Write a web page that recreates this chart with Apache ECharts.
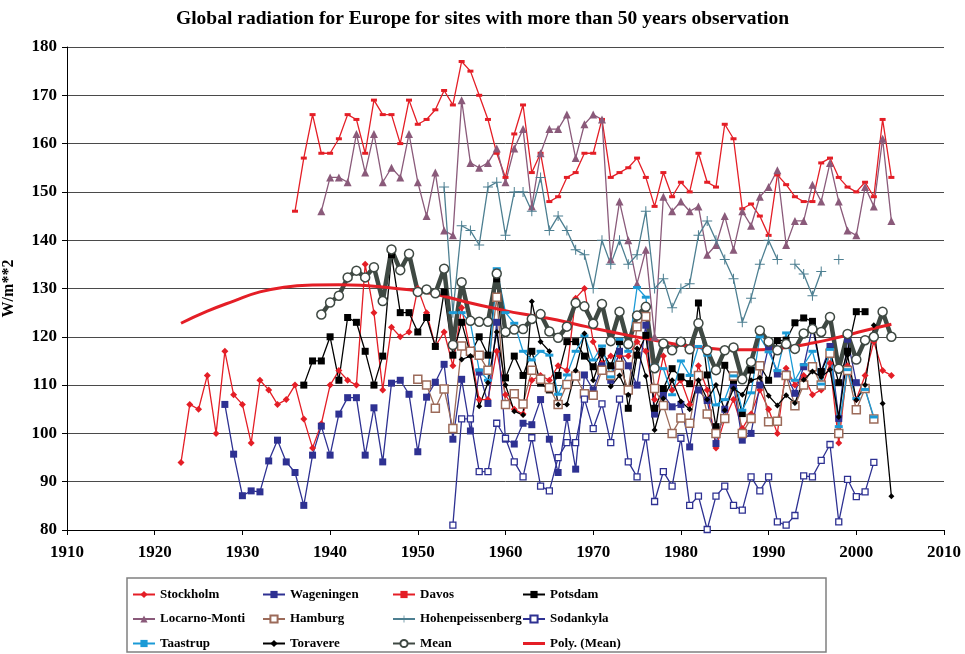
<!DOCTYPE html>
<html lang="en">
<head>
    <meta charset="UTF-8">
    <title>Global radiation for Europe</title>
    <script src="https://cdn.jsdelivr.net/npm/echarts@6/dist/echarts.min.js"></script>
    <style>
        html, body { margin: 0; padding: 0; background: #fff; }
        #container { width: 965px; height: 654px; }
    </style>
</head>
<body>
<div id="container"></div>
<script>
    // yearly values, each series starts at its own first year
    var stockholmStart = 1923;
    var stockholm = [94, 106, 105, 112, 100, 117, 108, 106, 98, 111,
        109, 106, 107, 110, 103, 97, 102, 110, 113, 111,
        110, 135, 125, 109, 122, 120, 121, 130, 125, 118,
        121, 114, 126, 117, 107, 107, 117, 108, 105, 104,
        111, 112, 111, 114, 113, 128, 130, 119, 114.5, 116,
        116, 116, 119, 117, 107, 116, 109, 111, 106, 114,
        109, 97, 103, 107, 101, 104, 109, 105, 100, 113.5,
        110, 112, 108, 109, 114.5, 98, 114, 107, 112, 119,
        113, 112];

    var wageningenStart = 1928;
    var wageningen = [106, 95.7, 87.1, 88.1, 87.9, 94.3, 98.6, 94.1, 91.9, 85.1,
        95.5, 101.5, 95.5, 104, 107.4, 107.4, 95.5, 105.3, 94.1, 110.4,
        111, 108.1, 96.2, 107.5, 110.6, 114.3, 98.8, 111.2, 100.5, 112.7,
        106.2, 123, 98.8, 97.8, 102.1, 101.8, 107, 98.8, 91.9, 103.3,
        92.6, 112.1, 109, 114, 111, 117, 114, 110, 122.4, 104,
        108, 105.5, 106, 97.2, 109, 106.8, 97.9, 105, 110, 98.6,
        100, 110, 118, 112.3, 112.3, 108.3, 113.8, 122, 112.8, 118,
        103.1, 119.5, 110.5, 109.5];

    var davosStart = 1936;
    var davos = [146, 157, 166, 158, 158, 161, 166, 165, 158, 169,
        166, 166, 160, 169, 164, 165, 167, 171, 168, 177,
        175, 170, 165, 158, 153, 162, 168, 154, 158, 148,
        149, 153, 154, 158, 158, 165, 153, 154, 155, 157,
        153, 147, 154, 149, 152, 150, 158, 152, 151, 164,
        161, 146.5, 147.5, 145, 141, 153.5, 151.5, 149, 148, 148,
        156, 157, 153, 151, 150, 152, 149, 165, 153];

    var potsdamStart = 1937;
    var potsdam = [110, 115, 115, 120, 111, 124, 123, 117, 110, 116,
        137, 125, 125, 121, 124, 118, 129.3, 116.2, 123, 116.4,
        120, 116.2, 132, 111.5, 116, 112, 117, 110.4, 109, 112,
        119, 119, 116, 113.8, 117, 114, 119, 105.2, 116.2, 120.3,
        105.2, 109.3, 113.4, 111.7, 110.3, 127, 112.1, 101.4, 114.1, 111,
        104.1, 113.1, 114, 111, 119.2, 119.3, 122.9, 123.9, 123.2, 112.8,
        117, 110.5, 117, 125.2, 125.2];

    var locarnoStart = 1939;
    var locarno = [146, 153, 153, 152, 162, 154, 162, 152, 155, 153,
        162, 152, 145, 154, 142, 141, 169, 156, 155, 156,
        159, 152, 159, 163, 147, 158, 163, 163, 166, 157,
        164, 166, 165, 136, 148, 140, 131, 138, 120, 149,
        146, 148, 146, 147, 137, 139, 145, 138, 146, 143,
        149, 151, 154.5, 139, 144, 144, 151.5, 148, 156, 148,
        142, 141, 151, 147, 161, 144];

    var hamburgStart = 1950;
    var hamburg = [111.2, 110, 105.2, 109.2, 101, 118.1, 117, 116.2, 113.1, 128.2,
        106, 108.2, 106.1, 113.1, 111.2, 109.5, 106, 110.1, 111.9, 108.2,
        107.9, 113.1, 112, 114.1, 109, 122.1, 124.2, 109.3, 105.8, 100,
        103.2, 102.1, 112, 104, 100, 103.1, 111.9, 100, 103.1, 114,
        102.4, 102.5, 112, 105.7, 110, 113.8, 110, 116.6, 100, 113,
        104.9, 109.3, 103];

    var hohenStart = 1953;
    var hohen = [151, 125, 143, 142, 139, 151, 152, 141, 150, 150,
        146, 153, 142, 145, 142, 138, 137, 130, 140, 135,
        140, 135, 137, 146, 130, 132, 126, 130, 131, 141,
        144, 140, 136, 132, 123, 128, 135, 140, 136, null,
        135, 133, 128.5, 133.5, null, 136];

    var sodankylaStart = 1954;
    var sodankyla = [81, 103, 103, 92.1, 92.1, 102.1, 99, 94.1, 91, 99.1,
        89.1, 88.1, 95, 98.1, 98.1, 107.1, 101, 106.1, 98.1, 107.1,
        94.1, 91, 99.3, 85.9, 92.1, 89.1, 99, 85.1, 87, 80.1,
        87, 89.1, 85.1, 84.1, 91, 88.1, 91, 81.7, 81, 83,
        91.2, 91, 94.4, 97.7, 81.7, 90.5, 86.9, 87.9, 94];

    var taastrupStart = 1954;
    var taastrup = [125, 125, 122.9, 113.1, 111, 134.1, 125, 122.8, 117, 115.2,
        117, 116.2, 108.1, 112.1, 117, 120.2, 115.2, 118.1, 111.7, 119.5,
        117, 130.2, 128.2, 114.1, 113.4, 108, 115, 112, 118, 116.2,
        105.9, 107, 111.9, 104.8, 108.4, 120, 116.9, 113, 120.8, 111,
        114.2, 117, 110.2, 117.4, 101.4, 113.2, 107.2, 109.1, 103.4];

    var toravereStart = 1955;
    var toravere = [115.3, 116, 105.6, 110.5, 121, 110, 104.6, 103.8, 127.3, 119,
        117, 106, 106, 113, 120.7, 111, 116.2, 109.7, 112, 108,
        117.6, 111.9, 100.7, 107.2, 111, 106.6, 105, 111, 107, 110,
        104.8, 109.3, 108, 111, 111.5, 107.8, 105.8, 107.9, 106.3, 111.1,
        112.8, 111.7, 113.2, 103.4, 116.2, 106.9, 110, 122.4, 106.2, 87];

    var meanStart = 1939;
    var mean = [124.6, 127.1, 128.5, 132.3, 133.7, 132.3, 134.4, 127.4, 138.1, 133.8,
        137.2, 129.3, 129.8, 129, 134.1, 118.3, 131.3, 123.3, 123.1, 123.1,
        133.1, 121, 121.5, 121.6, 123.7, 124.7, 121.1, 119.8, 122.1, 127,
        126.3, 122.7, 126.8, 119.1, 125.2, 118.5, 124.4, 126.2, 113.5, 118.6,
        117.2, 119, 117.4, 122.8, 117.2, 113.1, 117.2, 117.8, 111.2, 114.8,
        121.3, 119, 117.2, 118.5, 117.5, 120.7, 121.6, 121, 124.1, 113.4,
        120.6, 115.3, 119.3, 120, 125.2, 120];

    // points
    var polyYears = [1923, 1926, 1929, 1932, 1935, 1938, 1941, 1944, 1947, 1950,
        1953, 1956, 1959, 1962, 1965, 1968, 1971, 1974, 1977, 1980,
        1983, 1986, 1989, 1992, 1995, 1998, 2001, 2004];
    var polyMean = [122.8, 125.3, 127.4, 129.3, 130.3, 130.7, 130.8, 130.6, 130.1, 129.5,
        128.4, 127.0, 125.8, 124.7, 123.8, 122.6, 121.4, 120.3, 119.3, 118.3,
        117.7, 117.3, 117.3, 117.8, 118.7, 119.9, 121.3, 122.6];

    function pairs(start, values) {
        return values.map(function (v, i) {
            return [start + i, v];
        });
    }

    var font = 'Liberation Serif';
    var red = '#e41e26';
    var navy = '#2e3192';
    var plus = 'path://M4.5,0h1v4.5h4.5v1h-4.5v4.5h-1v-4.5h-4.5v-1h4.5z';

    function lineSeries(name, data, color, symbol, size, extra) {
        var s = {
            name: name,
            type: 'line',
            data: data,
            symbol: symbol,
            symbolSize: size,
            showSymbol: true,
            lineStyle: {color: color, width: 1.3},
            itemStyle: {color: color},
            emphasis: {disabled: true}
        };
        for (var k in extra) {
            s[k] = extra[k];
        }
        return s;
    }

    var dom = document.getElementById('container');
    var myChart = echarts.init(dom, null, {renderer: 'canvas'});

    // one vertical legend per column so the columns line up
    var legendBase = {
        orient: 'vertical',
        top: 588,
        height: 66,
        padding: 0,
        itemWidth: 22,
        itemHeight: 9,
        itemGap: 11.5,
        textStyle: {fontFamily: font, fontWeight: 'bold', fontSize: 13, color: '#000'},
        selectedMode: false
    };
    function legendCol(left, names) {
        var l = {left: left, data: names};
        for (var k in legendBase) {
            l[k] = legendBase[k];
        }
        return l;
    }

    var option = {
        animation: false,
        backgroundColor: '#fff',
        title: {
            text: 'Global radiation for Europe for sites with more than 50 years observation',
            left: 'center',
            top: 4,
            textStyle: {fontFamily: font, fontWeight: 'bold', fontSize: 19.5, color: '#000'}
        },
        grid: {left: 67, right: 21, top: 47, bottom: 124, containLabel: false, outerBoundsMode: 'none'},
        xAxis: {
            type: 'value',
            min: 1910,
            max: 2010,
            interval: 10,
            axisLine: {lineStyle: {color: '#000', width: 1}},
            axisTick: {show: true, length: 5, lineStyle: {color: '#000'}},
            axisLabel: {
                fontFamily: font, fontWeight: 'bold', fontSize: 17, color: '#000', margin: 14,
                formatter: function (v) { return String(v); }
            },
            splitLine: {show: false}
        },
        yAxis: {
            type: 'value',
            min: 80,
            max: 180,
            interval: 10,
            name: 'W/m**2',
            nameLocation: 'middle',
            nameGap: 50,
            nameRotate: 90,
            nameTextStyle: {fontFamily: font, fontWeight: 'bold', fontSize: 16, color: '#000'},
            axisLine: {show: true, lineStyle: {color: '#000', width: 1}},
            axisTick: {show: true, length: 5, lineStyle: {color: '#000'}},
            axisLabel: {fontFamily: font, fontWeight: 'bold', fontSize: 17, color: '#000', margin: 10},
            splitLine: {show: true, lineStyle: {color: '#4a4a4a', width: 1}}
        },
        legend: [
            legendCol(132, ['Stockholm', 'Locarno-Monti', 'Taastrup']),
            legendCol(262, ['Wageningen', 'Hamburg', 'Toravere']),
            legendCol(392, ['Davos', 'Hohenpeissenberg', 'Mean']),
            legendCol(522, ['Potsdam', 'Sodankyla', {name: 'Poly. (Mean)', icon: 'path://M0,0H22V3H0Z'}])
        ],
        graphic: [{
            type: 'rect',
            shape: {x: 127, y: 578, width: 699, height: 74},
            style: {fill: 'none', stroke: '#808080', lineWidth: 1.5},
            silent: true
        }],
        series: [
            lineSeries('Stockholm', pairs(stockholmStart, stockholm), red, 'diamond', 7),
            lineSeries('Wageningen', pairs(wageningenStart, wageningen), navy, 'rect', 7),
            lineSeries('Davos', pairs(davosStart, davos), red, 'rect', [6, 3]),
            lineSeries('Potsdam', pairs(potsdamStart, potsdam), '#000', 'rect', 7),
            lineSeries('Locarno-Monti', pairs(locarnoStart, locarno), '#8a5a7a', 'triangle', 8),
            lineSeries('Hamburg', pairs(hamburgStart, hamburg), '#9c6b5a', 'rect', 8, {
                itemStyle: {color: '#fff', borderColor: '#9c6b5a', borderWidth: 1.5}
            }),
            lineSeries('Hohenpeissenberg', pairs(hohenStart, hohen), '#4d7f91', plus, 10),
            lineSeries('Sodankyla', pairs(sodankylaStart, sodankyla), navy, 'rect', 6, {
                itemStyle: {color: '#fff', borderColor: navy, borderWidth: 1.3}
            }),
            lineSeries('Taastrup', pairs(taastrupStart, taastrup), '#1b9ad6', 'rect', [8, 3]),
            lineSeries('Toravere', pairs(toravereStart, toravere), '#000', 'diamond', 6),
            lineSeries('Mean', pairs(meanStart, mean), '#3f4943', 'circle', 9, {
                lineStyle: {color: '#3f4943', width: 4.5},
                itemStyle: {color: '#fff', borderColor: '#3f4943', borderWidth: 1.5}
            }),
            {
                name: 'Poly. (Mean)',
                type: 'line',
                data: polyYears.map(function (y, i) { return [y, polyMean[i]]; }),
                smooth: true,
                symbol: 'none',
                showSymbol: false,
                lineStyle: {color: red, width: 3},
                itemStyle: {color: red},
                emphasis: {disabled: true}
            }
        ]
    };

    myChart.setOption(option);
</script>
</body>
</html>
